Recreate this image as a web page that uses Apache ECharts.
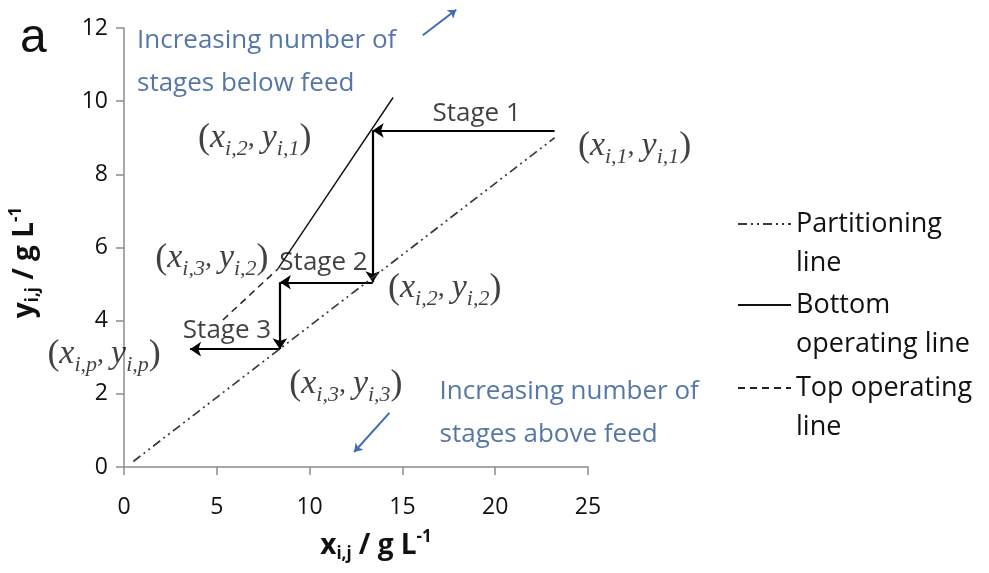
<!DOCTYPE html>
<html>
<head>
<meta charset="utf-8">
<script src="https://cdn.jsdelivr.net/npm/echarts@6/dist/echarts.min.js"></script>
<style>
  html, body { margin: 0; padding: 0; background: #fff; }
  #chart { width: 989px; height: 573px; }
</style>
</head>
<body>
<div id="chart"></div>
<script>
// Axis ranges (g/L)
const xRange = { min: 0, max: 25, step: 5 };
const yRange = { min: 0, max: 12, step: 2 };

// Equilibrium / operating lines (end points, g/L)
const partitionX = [0.5, 23.2];
const partitionY = [0.15, 9.0];
const bottomOpX = [8.3, 14.5];
const bottomOpY = [5.42, 10.1];
const topOpX = [5.33, 8.3];
const topOpY = [4.02, 5.42];

// Stage-wise construction: x_{i,1}, x_{i,2}, x_{i,3}, x_{i,p} and y_{i,1}, y_{i,2}, y_{i,3}
const stageX = [23.2, 13.4, 8.4, 3.56];
const stageY = [9.2, 5.05, 3.22];

// Text annotations placed in data units
const stageNames = ['Stage 1', 'Stage 2', 'Stage 3'];
const stageNameX = [19.0, 10.75, 5.55];
const stageNameY = [9.67, 5.6, 3.74];

const noteTexts = ['Increasing number of\nstages below feed', 'Increasing number of\nstages above feed'];
const noteX = [0.7, 17.0];
const noteY = [12.25, 2.64];

// Direction arrows [x0, y0, x1, y1]
const dirArrowBelow = [16.1, 11.8, 17.9, 12.5];
const dirArrowAbove = [14.3, 1.48, 12.4, 0.41];

const legendNames = ['Partitioning line', 'Bottom operating line', 'Top operating line'];

const pair = (xs, ys) => xs.map((x, i) => [x, ys[i]]);

const TXT = '#111';
const BLUE = '#2c5491';
const SANS = 'Open Sans';
const SERIF = 'Liberation Serif';

// Rich styles for the (x, y) coordinate labels
const mathRich = {
  p: { fontFamily: SERIF, fontSize: 36, color: TXT, lineHeight: 44, verticalAlign: 'middle' },
  v: { fontFamily: SERIF, fontStyle: 'italic', fontSize: 34, color: TXT, lineHeight: 44, verticalAlign: 'middle' },
  s: { fontFamily: SERIF, fontStyle: 'italic', fontSize: 22, color: TXT, lineHeight: 16, verticalAlign: 'bottom' },
  c: { fontFamily: SERIF, fontSize: 28, color: TXT, lineHeight: 44, verticalAlign: 'middle' }
};
const coord = (a, b) => '{p|(}{v|x}{s|i,' + a + '}{c|, }{v|y}{s|i,' + b + '}{p|)}';

// Corner points of the staircase with their coordinate labels
const corners = [
  { value: [stageX[0], stageY[0]], text: coord('1', '1'), off: [80, 16] },
  { value: [stageX[1], stageY[0]], text: coord('2', '1'), off: [-118, 8] },
  { value: [stageX[1], stageY[1]], text: coord('2', '2'), off: [72, 6] },
  { value: [stageX[2], stageY[1]], text: coord('3', '2'), off: [-68, -24] },
  { value: [stageX[2], stageY[2]], text: coord('3', '3'), off: [66, 35] },
  { value: [stageX[3], stageY[2]], text: coord('p', 'p'), off: [-86, 5] }
];

const steps = [
  [[stageX[0], stageY[0]], [stageX[1], stageY[0]]],
  [[stageX[1], stageY[0]], [stageX[1], stageY[1]]],
  [[stageX[1], stageY[1]], [stageX[2], stageY[1]]],
  [[stageX[2], stageY[1]], [stageX[2], stageY[2]]],
  [[stageX[2], stageY[2]], [stageX[3], stageY[2]]]
];

const legendBase = {
  orient: 'vertical',
  left: 737,
  padding: 0,
  itemWidth: 53,
  itemHeight: 14,
  itemGap: 0,
  itemStyle: { opacity: 0, borderWidth: 0 },
  textStyle: { fontFamily: SANS, fontSize: 27, color: TXT, lineHeight: 39 }
};
const legendTops = [224, 305, 388];
const legendLabels = ['Partitioning\nline', 'Bottom\noperating line', 'Top operating\nline'];

const nameRich = {
  b: { fontFamily: SANS, fontWeight: 'bold', fontSize: 28, color: TXT, lineHeight: 34, verticalAlign: 'middle' },
  sb: { fontFamily: SANS, fontWeight: 'bold', fontSize: 17, color: TXT, lineHeight: 12, verticalAlign: 'bottom' },
  sp: { fontFamily: SANS, fontWeight: 'bold', fontSize: 17, color: TXT, lineHeight: 12, verticalAlign: 'top' }
};

const chart = echarts.init(document.getElementById('chart'), null, { renderer: 'canvas' });
chart.setOption({
  animation: false,
  backgroundColor: '#fff',
  title: {
    text: 'a', left: 15, top: 10,
    textStyle: { fontFamily: 'Liberation Sans', fontSize: 48, fontWeight: 'normal', color: TXT }
  },
  grid: { left: 124, right: 401, top: 28, bottom: 106 },
  legend: legendNames.map((n, i) => Object.assign({}, legendBase, {
    data: [n],
    top: legendTops[i] - 58.5,
    formatter: () => '\n' + legendLabels[i]
  })),
  xAxis: {
    type: 'value', min: xRange.min, max: xRange.max, interval: xRange.step,
    splitLine: { show: false },
    axisLine: { lineStyle: { color: '#8c8c8c', width: 1.5 } },
    axisTick: { length: 8, lineStyle: { color: '#8c8c8c', width: 1.5 } },
    axisLabel: { margin: 29, fontFamily: SANS, fontSize: 23, color: TXT },
    name: '{b|x}{sb|i,j}{b| / g L}{sp|-1}',
    nameLocation: 'middle', nameGap: 62,
    nameTextStyle: { rich: nameRich, padding: [0, 0, 0, 40] }
  },
  yAxis: {
    type: 'value', min: yRange.min, max: yRange.max, interval: yRange.step,
    splitLine: { show: false },
    axisLine: { show: true, lineStyle: { color: '#8c8c8c', width: 1.5 } },
    axisTick: { show: true, length: 8, lineStyle: { color: '#8c8c8c', width: 1.5 } },
    axisLabel: { margin: 16, fontFamily: SANS, fontSize: 23, color: TXT },
    name: '{b|y}{sb|i,j}{b| / g L}{sp|-1}',
    nameLocation: 'middle', nameGap: 82, nameRotate: 90,
    nameTextStyle: { rich: nameRich, padding: [0, 30, 0, 0] }
  },
  series: [
    {
      name: legendNames[0], type: 'line', symbol: 'none',
      data: pair(partitionX, partitionY),
      lineStyle: { color: '#3a3a3a', width: 1.7, type: [9, 4, 2, 4, 2, 4] },
      itemStyle: { color: '#3a3a3a' }
    },
    {
      name: legendNames[1], type: 'line', symbol: 'none',
      data: pair(bottomOpX, bottomOpY),
      lineStyle: { color: '#111', width: 1.4, type: 'solid' },
      itemStyle: { color: '#111' }
    },
    {
      name: legendNames[2], type: 'line', symbol: 'none',
      data: pair(topOpX, topOpY),
      lineStyle: { color: '#222', width: 1.5, type: [7, 5] },
      itemStyle: { color: '#222' }
    },
    {
      name: 'steps', type: 'lines', coordinateSystem: 'cartesian2d', clip: false,
      symbol: ['none', 'arrow'], symbolSize: 11,
      lineStyle: { color: '#000', width: 2.2, opacity: 1 },
      data: steps.map(c => ({ coords: c }))
    },
    {
      name: 'direction', type: 'lines', coordinateSystem: 'cartesian2d', clip: false,
      symbol: ['none', 'arrow'], symbolSize: 8,
      lineStyle: { color: '#3f6db0', width: 2, opacity: 1 },
      data: [dirArrowBelow, dirArrowAbove].map(a => ({ coords: [[a[0], a[1]], [a[2], a[3]]] }))
    },
    {
      name: 'corners', type: 'scatter', symbolSize: 0, clip: false, silent: true,
      data: corners.map(c => ({
        value: c.value,
        label: { show: true, position: 'inside', offset: c.off, formatter: c.text, rich: mathRich }
      }))
    },
    {
      name: 'stages', type: 'scatter', symbolSize: 0, clip: false, silent: true,
      data: stageNames.map((s, i) => ({ value: [stageNameX[i], stageNameY[i]], name: s })),
      label: {
        show: true, position: 'inside', formatter: p => p.name,
        fontFamily: SANS, fontSize: 26, color: TXT
      }
    },
    {
      name: 'notes', type: 'scatter', symbolSize: 0, clip: false, silent: true,
      data: noteTexts.map((s, i) => ({ value: [noteX[i], noteY[i]], name: s })),
      label: {
        show: true, position: 'inside', align: 'left', verticalAlign: 'top',
        formatter: p => p.name,
        fontFamily: SANS, fontSize: 26, lineHeight: 43, color: BLUE
      }
    }
  ]
});
</script>
</body>
</html>
